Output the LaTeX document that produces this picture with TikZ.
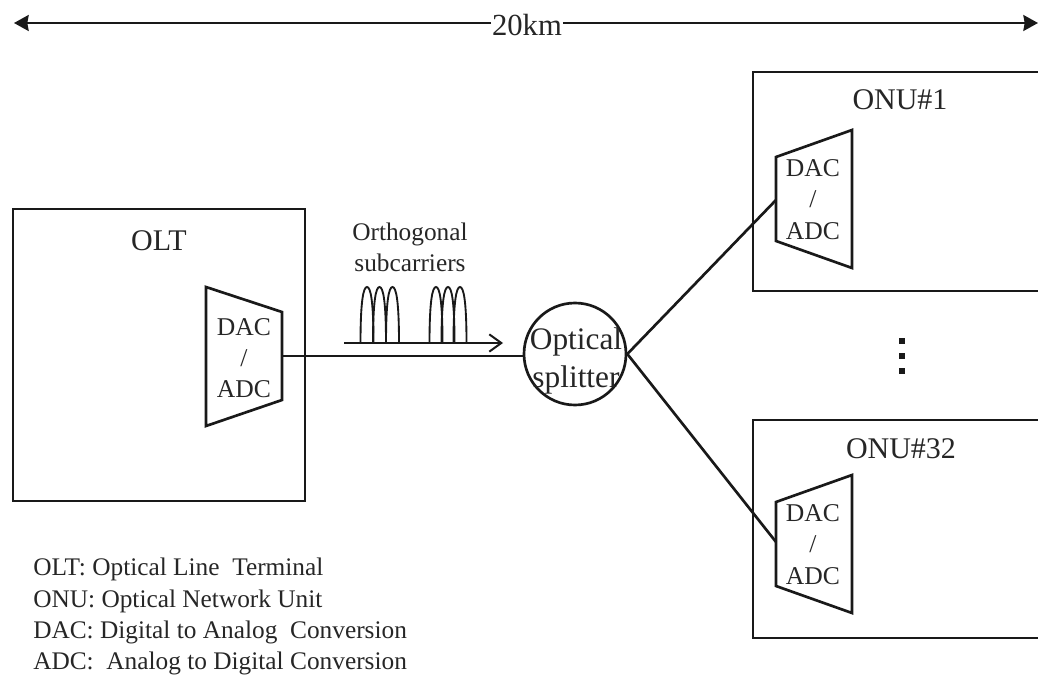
\documentclass[tikz,border=0pt]{standalone}
\usepackage{fontspec}
\setmainfont{Liberation Serif}
\usetikzlibrary{arrows.meta}
\tikzset{
  x=0.75pt,y=-0.75pt,
  ln/.style={draw=black!90,line width=2pt},
  top ln/.style={draw=black!90,line width=1.5pt},
  lbl/.style={inner sep=0pt,text=black!85,font=\fontsize{22.5}{26}\selectfont},
  dac/.style={inner sep=0pt,align=center,text=black!85,font=\fontsize{19.2}{23.5}\selectfont},
  legend/.style={inner sep=0pt,anchor=west,text=black!85,font=\fontsize{19}{22}\selectfont},
  carrier/.style={draw=black!90,line width=1.4pt},
  dotmark/.style={fill=black!90,draw=none,minimum size=3.8pt,inner sep=0pt,rectangle}
}
\newcommand{\hump}[1]{\draw[carrier] (#1-6.5,343) .. controls (#1-6.5,300) and (#1-3.5,287) .. (#1,287) .. controls (#1+3.5,287) and (#1+6.5,300) .. (#1+6.5,343);}
\begin{document}
\begin{tikzpicture}
\useasboundingbox (0,0) rectangle (1038,677);
% dimension arrow
\node[lbl,fill=white,inner xsep=0.5pt,font=\fontsize{23}{26}\selectfont] (dist) at (527,25) {20km};
\coordinate (dl) at (14,23);
\coordinate (dr) at (1038,23);
\draw[top ln,-{Stealth[length=11pt,width=12pt,inset=1pt]}] (dist.west |- dl) -- (dl);
\draw[top ln,-{Stealth[length=11pt,width=12pt,inset=1pt]}] (dist.east |- dr) -- (dr);
% boxes
\draw[ln] (1038,72) -- (753,72) -- (753,291) -- (1038,291);
\draw[ln] (1038,420) -- (753,420) -- (753,638) -- (1038,638);
\draw[ln] (13,209) rectangle (305,501);
\node[lbl] (olt) at (159,241) {OLT};
\node[lbl] (onu1) at (900,100) {ONU\#1};
\node[lbl] (onu32) at (901,449) {ONU\#32};
% trapezoids
\draw[ln] (206,287) -- (282,312) -- (282,400) -- (206,426) -- cycle;
\coordinate (oltout) at (282,356);
\draw[ln] (776,157) -- (852,130) -- (852,268) -- (776,241) -- cycle;
\coordinate (onu1in) at (776,200);
\draw[ln] (776,502) -- (852,475) -- (852,613) -- (776,586) -- cycle;
\coordinate (onu32in) at (776,542);
\node[dac] (d0) at (244,358) {DAC\\/\\ADC};
\node[dac] (d1) at (813,199.5) {DAC\\/\\ADC};
\node[dac] (d2) at (813,544.5) {DAC\\/\\ADC};
% splitter
\node[circle,ln,minimum size=76.5pt,inner sep=0pt] (sp) at (575,354) {};
\node[lbl,align=center,font=\fontsize{23.5}{28.5}\selectfont] (sptext) at (576,361) {Optical\\splitter};
\draw[ln] (oltout) -- (sp.west |- oltout);
\draw[ln] (sp.east) -- (onu1in);
\draw[ln] (sp.east) -- (onu32in);
% subcarriers
\node[lbl,align=center,font=\fontsize{19}{23}\selectfont] (orth) at (410,247.5) {Orthogonal\\subcarriers};
\coordinate (cl) at (344,343);
\coordinate (cr) at (503,343);
\draw[ln,line width=1.5pt,-{Straight Barb[length=9pt,width=13pt,line width=1.5pt]}] (cl) -- (cr);
\hump{367}\hump{379.5}\hump{392.5}
\hump{436}\hump{448}\hump{460}
% dots
\node[dotmark] (dot1) at (902,341) {};
\node[dotmark] (dot2) at (902,356) {};
\node[dotmark] (dot3) at (902,371) {};
% legend
\node[legend] (l1) at (33,569) {OLT:\ Optical Line\ \ Terminal};
\node[legend] (l2) at (33,601) {ONU: Optical Network Unit};
\node[legend] (l3) at (33,632) {DAC: Digital to Analog\ \ Conversion};
\node[legend] (l4) at (33,663) {ADC:\ \ Analog to Digital Conversion};
\end{tikzpicture}
\end{document}
